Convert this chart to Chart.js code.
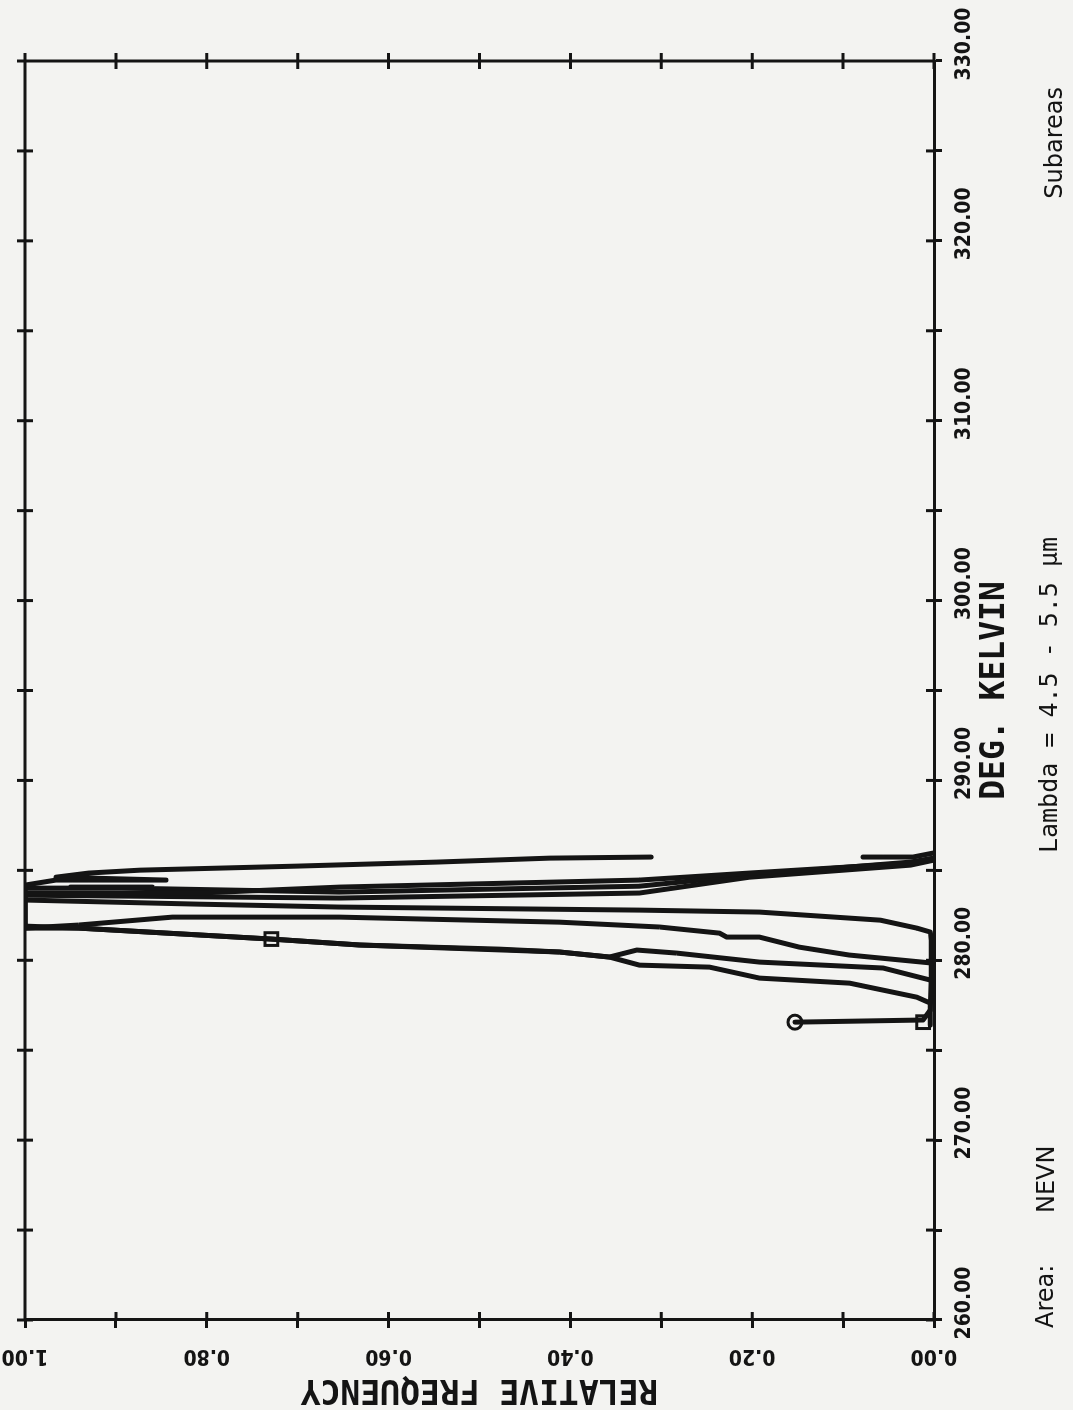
<!DOCTYPE html>
<html>
<head>
<meta charset="utf-8">
<title>Relative frequency - NEVN</title>
<script src="https://cdn.jsdelivr.net/npm/chart.js@4.4.1/dist/chart.umd.min.js"></script>
<style>
  html, body { margin: 0; padding: 0; background: #f3f3f1; }
  body { width: 1073px; height: 1410px; overflow: hidden; position: relative; }
  /* the original plot lies on its side: draw it landscape, then turn it */
  #wrap {
    position: absolute; left: 0; top: 0;
    width: 1410px; height: 1073px;
    transform-origin: 0 0;
    transform: translate(0, 1410px) rotate(-90deg);
  }
</style>
</head>
<body>
<div id="wrap"><canvas id="chart"></canvas></div>
<script>
const ink = "#141414";
const paper = "#f3f3f1";

// tick labels
const kelvinLabels = [260, 270, 280, 290, 300, 310, 320, 330];
const freqLabels = [0, 0.2, 0.4, 0.6, 0.8, 1.0];

// subarea curves, temperature (K) and relative frequency
const curve1K = [276.56, 276.68, 277.23, 279.00, 281.12, 281.57, 281.79, 282.23, 282.68, 282.79, 282.96, 283.12, 283.35, 283.74, 283.74, 284.07, 284.46, 284.85, 285.40, 285.68];
const curve1F = [0.153, 0.012, 0.004, 0.003, 0.003, 0.004, 0.019, 0.059, 0.192, 0.324, 0.654, 0.808, 1.000, 1.000, 0.808, 0.654, 0.324, 0.203, 0.026, 0.000];

const curve2K = [276.40, 277.62, 277.95, 278.73, 279.01, 279.62, 279.73, 280.18, 280.46, 280.62, 280.85, 281.18, 281.79, 281.79, 283.62, 283.46, 283.74, 284.62, 285.29, 285.57];
const curve2F = [0.004, 0.004, 0.019, 0.093, 0.192, 0.247, 0.324, 0.357, 0.412, 0.478, 0.632, 0.729, 0.941, 1.000, 1.000, 0.654, 0.324, 0.203, 0.026, 0.000];

const curve3K = [278.90, 279.57, 279.90, 280.40, 280.57, 280.18, 280.46, 280.85, 281.18, 281.79, 281.90, 284.18, 284.46, 284.46, 284.62, 284.85, 285.01, 285.24, 285.46, 285.68, 285.74, 285.74, 285.74, 285.74, 285.96];
const curve3F = [0.004, 0.056, 0.192, 0.283, 0.327, 0.357, 0.412, 0.632, 0.729, 0.941, 1.000, 1.000, 0.966, 0.845, 0.966, 0.930, 0.874, 0.698, 0.547, 0.423, 0.311, null, 0.078, 0.023, 0.001];

const curve4K = [279.84, 280.29, 280.73, 281.29, 281.29, 281.51, 281.85, 282.12, 282.40, 282.40, 281.96, 281.79, 284.01, 284.02, 284.07, 283.79, 284.12, 284.74, 285.46, 285.68];
const curve4F = [0.001, 0.093, 0.148, 0.192, 0.228, 0.236, 0.302, 0.412, 0.654, 0.838, 0.941, 1.000, 1.000, 0.860, 0.950, 0.654, 0.324, 0.203, 0.026, 0.000];

// plotted symbols
const circleK = [276.56];
const circleF = [0.153];
const squareK = [281.18, 276.56];
const squareF = [0.729, 0.012];

function points(ks, fs) {
  return ks.map((k, i) => ({ x: k, y: fs[i] }));
}

function curve(ks, fs) {
  return {
    data: points(ks, fs),
    showLine: true,
    borderColor: ink,
    borderWidth: 5,
    borderJoinStyle: "round",
    borderCapStyle: "round",
    pointRadius: 0,
    spanGaps: false,
  };
}

// ticks crossing the frame on all four sides, and the top/right edges
const frameTicks = {
  id: "frameTicks",
  afterDatasetsDraw(chart) {
    const { ctx, chartArea: a, scales } = chart;
    const half = 8;
    ctx.save();
    ctx.strokeStyle = ink;
    ctx.lineWidth = 3;
    ctx.beginPath();
    ctx.moveTo(a.left, a.top);
    ctx.lineTo(a.right, a.top);
    ctx.lineTo(a.right, a.bottom);
    scales.x.ticks.forEach((t) => {
      const px = scales.x.getPixelForValue(t.value);
      ctx.moveTo(px, a.top - half);
      ctx.lineTo(px, a.top + half);
      ctx.moveTo(px, a.bottom - half);
      ctx.lineTo(px, a.bottom);
    });
    scales.y.ticks.forEach((t) => {
      const py = scales.y.getPixelForValue(t.value);
      ctx.moveTo(a.left, py);
      ctx.lineTo(a.left + half, py);
      ctx.moveTo(a.right - half, py);
      ctx.lineTo(a.right + half, py);
    });
    ctx.stroke();
    ctx.restore();
  },
};

// the typed notes under the plot
const captions = {
  id: "captions",
  afterDraw(chart) {
    const { ctx } = chart;
    ctx.save();
    ctx.fillStyle = ink;
    ctx.textBaseline = "alphabetic";
    ctx.font = '24px "DejaVu Sans"';
    ctx.textAlign = "left";
    ctx.fillText("Area:", 82, 1053);
    ctx.fillText("NEVN", 197, 1054);
    ctx.textAlign = "right";
    ctx.fillText("Subareas", 1323, 1062);
    ctx.font = '25px "DejaVu Sans Mono"';
    ctx.textAlign = "center";
    ctx.fillText("Lambda = 4.5 - 5.5 \u00b5m", 715, 1057);
    ctx.restore();
  },
};

const tickFont = { family: '"DejaVu Sans Condensed"', size: 21, weight: "bold" };
const titleFont = { family: '"DejaVu Sans Mono"', size: 33, weight: "bold" };

new Chart(document.getElementById("chart"), {
  type: "scatter",
  data: {
    datasets: [
      curve(curve1K, curve1F),
      curve(curve2K, curve2F),
      curve(curve3K, curve3F),
      curve(curve4K, curve4F),
      {
        data: points(circleK, circleF),
        pointStyle: "circle",
        pointRadius: 7,
        borderWidth: 3,
        borderColor: ink,
        backgroundColor: paper,
      },
      {
        data: points(squareK, squareF),
        pointStyle: "rect",
        pointRadius: 9,
        borderWidth: 3,
        borderColor: ink,
        backgroundColor: paper,
      },
    ],
  },
  options: {
    responsive: true,
    maintainAspectRatio: false,
    animation: false,
    layout: { padding: { top: 25, right: 61, bottom: 0, left: 0 } },
    plugins: {
      legend: { display: false },
      tooltip: { enabled: false },
    },
    scales: {
      x: {
        type: "linear",
        position: "bottom",
        min: 260,
        max: 330,
        afterFit: (s) => { s.height = 139; },
        border: { display: true, color: ink, width: 3 },
        grid: { drawOnChartArea: false, drawTicks: true, tickLength: 8, tickWidth: 3, tickColor: ink },
        ticks: {
          stepSize: 5,
          autoSkip: false,
          minRotation: 0,
          maxRotation: 0,
          labelOffset: 17,
          padding: 10,
          color: ink,
          font: tickFont,
          callback: (v) => (kelvinLabels.includes(v) ? v.toFixed(2) : ""),
        },
        title: {
          display: true,
          text: "DEG. KELVIN",
          color: ink,
          font: titleFont,
          padding: { top: 0, bottom: 58 },
        },
      },
      y: {
        type: "linear",
        position: "left",
        min: 0,
        max: 1,
        afterFit: (s) => { s.width = 90; },
        border: { display: true, color: ink, width: 3 },
        grid: { drawOnChartArea: false, drawTicks: true, tickLength: 8, tickWidth: 3, tickColor: ink },
        ticks: {
          stepSize: 0.1,
          autoSkip: false,
          minRotation: 90,
          maxRotation: 90,
          crossAlign: "center",
          padding: 4,
          color: ink,
          font: tickFont,
          callback: (v) => {
            const r = Math.round(v * 10) / 10;
            return freqLabels.some((f) => Math.abs(f - r) < 1e-6) ? r.toFixed(2) : "";
          },
        },
        title: {
          display: true,
          text: "RELATIVE FREQUENCY",
          color: ink,
          font: titleFont,
          padding: { top: 2, bottom: 0 },
        },
      },
    },
  },
  plugins: [frameTicks, captions],
});
</script>
</body>
</html>
